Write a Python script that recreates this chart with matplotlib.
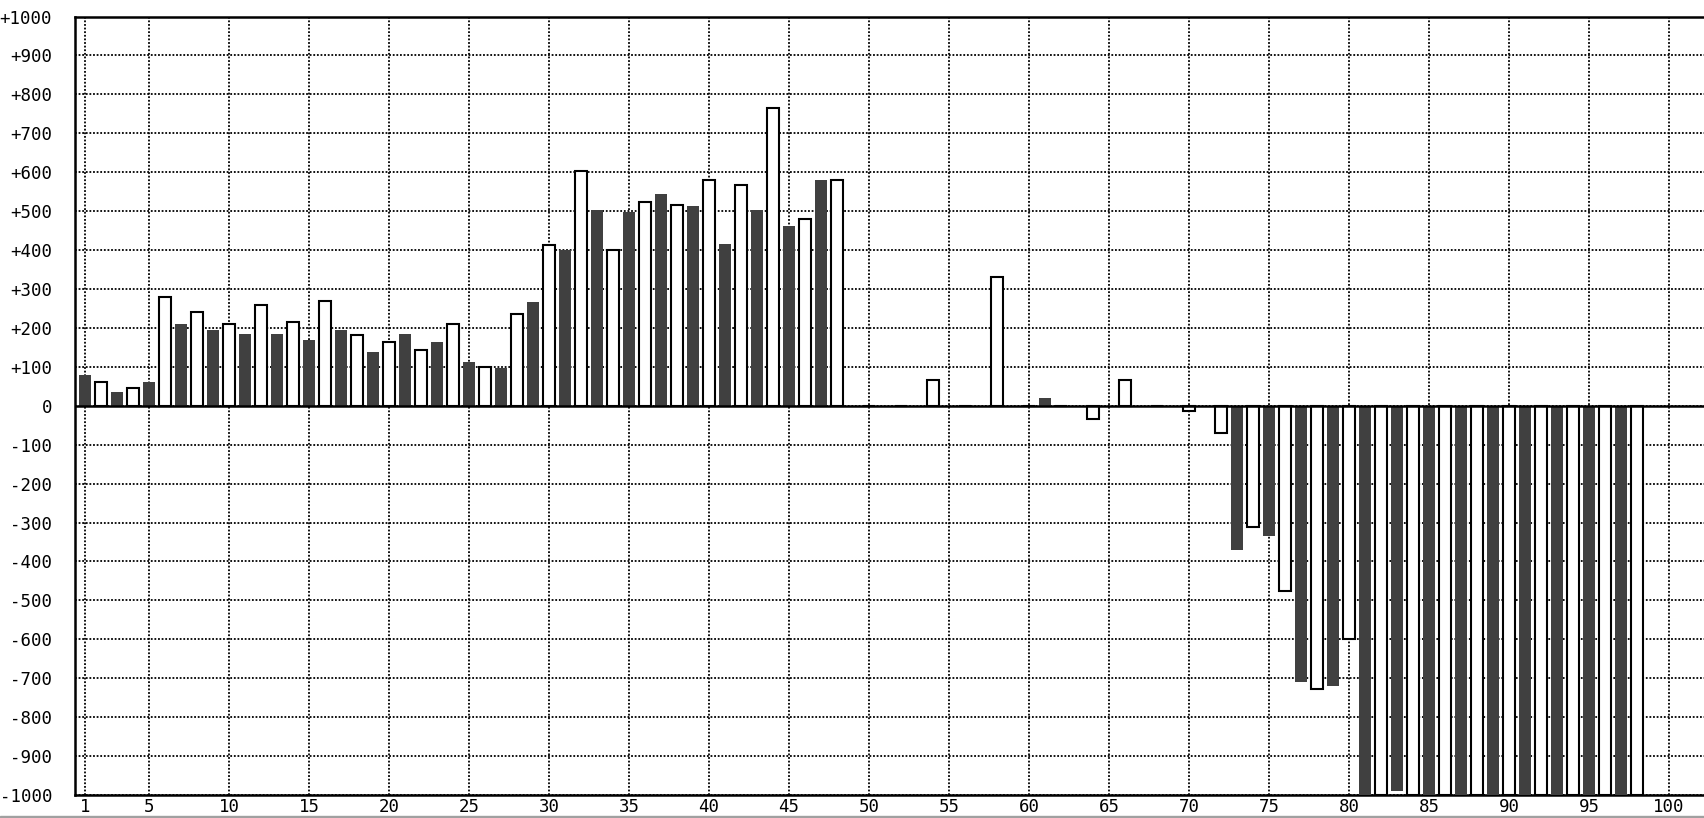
import matplotlib
matplotlib.use("Agg")
import matplotlib.pyplot as plt
from matplotlib.patches import Rectangle

# ---- data ----
positions = list(range(1, 99))
values = [80, 60, 35, 45, 60, 280, 210, 240, 195, 210,
          185, 260, 185, 215, 170, 270, 195, 183, 138, 163,
          185, 142, 164, 210, 112, 100, 97, 235, 267, 414,
          400, 604, 503, 400, 498, 523, 544, 517, 513, 579,
          416, 568, 503, 764, 462, 481, 580, 579, 0, 0,
          0, 0, 0, 65, 0, 0, 0, 332, 0, 0,
          20, 0, 0, -34, 0, 65, 0, 0, 0, -14,
          0, -70, -370, -311, -334, -476, -709, -728, -720, -600,
          -1000, -1000, -990, -1000, -1000, -1000, -1000, -1000, -1000, -1000,
          -1000, -1000, -1000, -1000, -1000, -1000, -1000, -1000]
x_ticks = [1, 5, 10, 15, 20, 25, 30, 35, 40, 45, 50, 55, 60, 65, 70, 75, 80, 85, 90, 95, 100]
y_ticks = list(range(-1000, 1001, 100))
y_labels = ["0" if v == 0 else f"{v:+d}" for v in y_ticks]

DARK = "#404040"

W, H = 1704, 818
fig = plt.figure(figsize=(W / 100, H / 100), dpi=100)
ax = fig.add_axes([75 / W, 23 / H, 1 - 75 / W, (795 - 16.5) / H])

dark_x = [p for p in positions if p % 2 == 1]
dark_v = [v for p, v in zip(positions, values) if p % 2 == 1]
white_x = [p for p in positions if p % 2 == 0]
white_v = [v for p, v in zip(positions, values) if p % 2 == 0]

ax.bar(dark_x, dark_v, width=0.75, color=DARK, edgecolor="none", zorder=3)
ax.bar(white_x, white_v, width=0.7, color="white", edgecolor="black",
       linewidth=1.5, zorder=3)

ax.axhline(0, color="black", linewidth=1.8, zorder=5)

ax.set_xlim(0.375, (W - 69) / 16)
ax.set_ylim(-1000, 1000)

ax.set_xticks(x_ticks)
ax.set_xticklabels([str(t) for t in x_ticks])
ax.set_yticks(y_ticks)
ax.set_yticklabels(y_labels)

ax.grid(True, color="black", linestyle=(0, (1, 1)), linewidth=1.3, zorder=1)
ax.set_axisbelow(True)

ax.tick_params(axis="both", length=0, labelsize=12.5)
ax.tick_params(axis="y", pad=16.5)
ax.tick_params(axis="x", pad=2)
for lab in ax.get_xticklabels() + ax.get_yticklabels():
    lab.set_family("DejaVu Sans Mono")

for side in ["left", "top", "bottom"]:
    ax.spines[side].set_linewidth(1.8)
    ax.spines[side].set_color("black")
ax.spines["right"].set_visible(False)

fig.add_artist(Rectangle((0, 0), 1, 2 / H, transform=fig.transFigure,
                         color="#a0a0a0", zorder=10))

fig.savefig("out.png", dpi=100)
